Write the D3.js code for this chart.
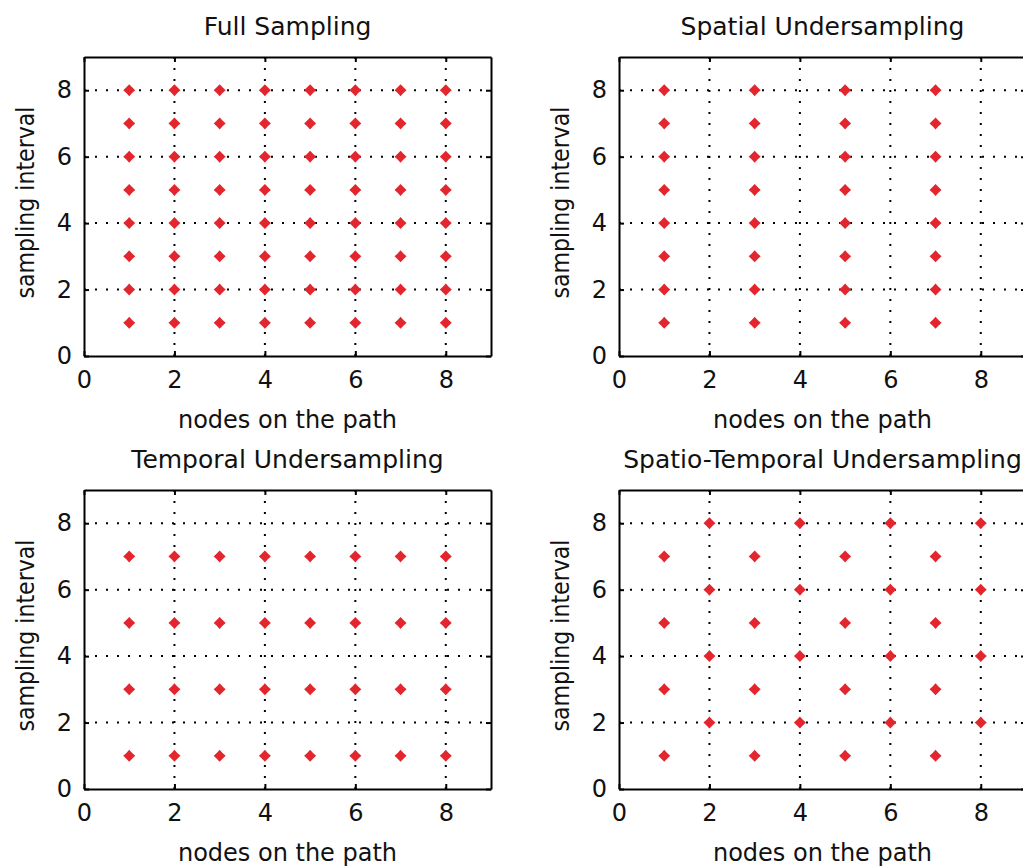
<!DOCTYPE html>
<html>
<head>
<meta charset="utf-8">
<script src="https://cdn.jsdelivr.net/npm/d3@7"></script>
<style>
  html, body { margin: 0; padding: 0; background: #ffffff; overflow: hidden; }
  svg { display: block; }
  text { font-family: "DejaVu Sans", "Liberation Sans", sans-serif; fill: #111; }
</style>
</head>
<body>
<svg id="chart" width="1023" height="868"></svg>
<script>
// ---- data ----
const panelTitles = ["Full Sampling", "Spatial Undersampling", "Temporal Undersampling", "Spatio-Temporal Undersampling"];
const xLabel = "nodes on the path";
const yLabel = "sampling interval";
const xTicks = [0, 2, 4, 6, 8];
const yTicks = [0, 2, 4, 6, 8];
const gridX = [2, 4, 6, 8];
const gridY = [2, 4, 6, 8];

const allNodes = [1, 2, 3, 4, 5, 6, 7, 8];
const allIntervals = [1, 2, 3, 4, 5, 6, 7, 8];
const oddNodes = [1, 3, 5, 7];
const evenNodes = [2, 4, 6, 8];
const oddIntervals = [1, 3, 5, 7];
const evenIntervals = [2, 4, 6, 8];

// each panel: list of [nodes, intervals] blocks (sampled grid)
const fullSampling = [[allNodes, allIntervals]];
const spatialSampling = [[oddNodes, allIntervals]];
const temporalSampling = [[allNodes, oddIntervals]];
const spatioTemporalSampling = [[oddNodes, oddIntervals], [evenNodes, evenIntervals]];
const panelSamples = [fullSampling, spatialSampling, temporalSampling, spatioTemporalSampling];

// ---- layout ----
const svg = d3.select("#chart");
const W = 407, H = 299;
const panelPos = [
  { left: 84, top: 57 },
  { left: 619, top: 57 },
  { left: 84, top: 490 },
  { left: 619, top: 490 }
];
const markerColor = "#e3262e";
const fontSize = 24;

// 4-point star-ish diamond marker
const R = 6, r = 2.9;
const markerPath = `M0,${-R}L${r},${-r}L${R},0L${r},${r}L0,${R}L${-r},${r}L${-R},0L${-r},${-r}Z`;

panelPos.forEach((p, i) => {
  const g = svg.append("g").attr("transform", `translate(${p.left},${p.top})`);
  const x = d3.scaleLinear().domain([0, 9]).range([0, W]);
  const y = d3.scaleLinear().domain([0, 9]).range([H, 0]);

  // grid
  g.append("g").selectAll("line").data(gridX).join("line")
    .attr("x1", d => x(d)).attr("x2", d => x(d))
    .attr("y1", 0).attr("y2", H)
    .attr("stroke", "#000").attr("stroke-width", 2)
    .attr("stroke-dasharray", "2,9");
  g.append("g").selectAll("line").data(gridY).join("line")
    .attr("y1", d => y(d)).attr("y2", d => y(d))
    .attr("x1", 0).attr("x2", W)
    .attr("stroke", "#000").attr("stroke-width", 2)
    .attr("stroke-dasharray", "2,9");

  // axes
  const styleAxis = sel => {
    sel.select(".domain").attr("stroke", "#000").attr("stroke-width", 2);
    sel.selectAll(".tick line").attr("stroke", "#000").attr("stroke-width", 2);
    sel.selectAll(".tick text").style("font-size", fontSize + "px")
      .style("font-family", "'DejaVu Sans', sans-serif").attr("fill", "#111");
  };
  g.append("g").attr("transform", `translate(0,${H})`)
    .call(d3.axisBottom(x).tickValues(xTicks).tickSize(-5).tickSizeOuter(0).tickPadding(15).tickFormat(d3.format("d")))
    .call(styleAxis);
  g.append("g")
    .call(d3.axisLeft(y).tickValues(yTicks).tickSize(-5).tickSizeOuter(0).tickPadding(12).tickFormat(d3.format("d")))
    .call(styleAxis);
  g.append("g")
    .call(d3.axisTop(x).tickValues(xTicks).tickSize(-5).tickSizeOuter(0).tickFormat(""))
    .call(styleAxis);
  g.append("g").attr("transform", `translate(${W},0)`)
    .call(d3.axisRight(y).tickValues(yTicks).tickSize(-5).tickSizeOuter(0).tickFormat(""))
    .call(styleAxis);

  // markers
  const pts = [];
  panelSamples[i].forEach(([ns, is]) => ns.forEach(n => is.forEach(v => pts.push([n, v]))));
  g.append("g").selectAll("path").data(pts).join("path")
    .attr("d", markerPath)
    .attr("transform", d => `translate(${x(d[0])},${y(d[1])})`)
    .attr("fill", markerColor);

  // title
  g.append("text").attr("x", W / 2).attr("y", -22)
    .attr("text-anchor", "middle").style("font-size", "25px")
    .text(panelTitles[i]);
  // x label
  g.append("text").attr("x", W / 2).attr("y", H + 72)
    .attr("text-anchor", "middle").style("font-size", fontSize + "px")
    .text(xLabel);
  // y label
  g.append("text").attr("transform", `translate(${-50},${H / 2 - 4}) rotate(-90)`)
    .attr("text-anchor", "middle").style("font-size", fontSize + "px")
    .attr("textLength", 192).attr("lengthAdjust", "spacingAndGlyphs")
    .text(yLabel);
});
</script>
</body>
</html>
